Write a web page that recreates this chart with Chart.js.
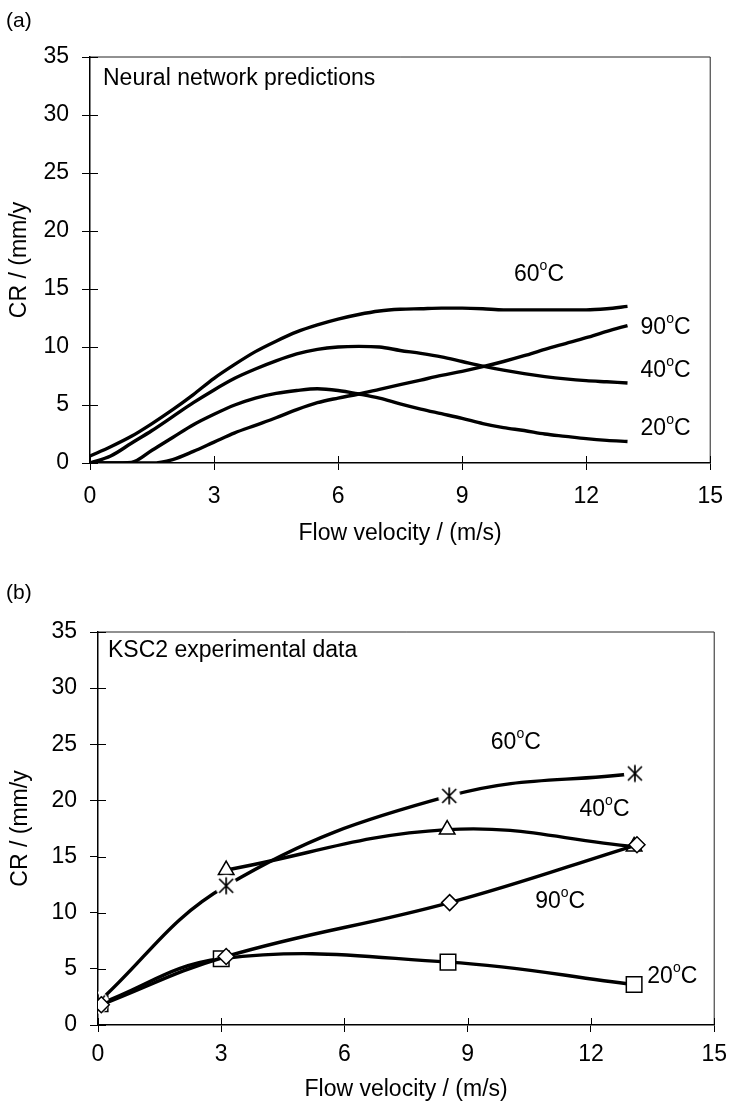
<!DOCTYPE html>
<html>
<head>
<meta charset="utf-8">
<script src="https://cdn.jsdelivr.net/npm/chart.js@4.4.1/dist/chart.umd.min.js"></script>
<style>
  html, body { margin: 0; padding: 0; background: #fff; }
  canvas { display: block; }
</style>
</head>
<body>
<canvas id="chartA" width="736" height="560"></canvas>
<canvas id="chartB" width="736" height="545"></canvas>
<script>
// (a) neural network predictions
const velocityA = [0, 0.5, 1, 1.5, 2, 2.5, 3, 3.5, 4, 4.5, 5, 5.5, 6, 6.5, 7, 7.5, 8, 8.5, 9, 9.5, 10, 10.5, 11, 11.5, 12, 12.5, 13];
const cr60A = [0.6, 1.4, 2.3, 3.4, 4.6, 5.9, 7.3, 8.5, 9.6, 10.5, 11.3, 11.9, 12.4, 12.8, 13.1, 13.25, 13.3, 13.35, 13.35, 13.3, 13.2, 13.2, 13.2, 13.2, 13.2, 13.3, 13.5];
const cr40A = [0, 0.6, 1.7, 2.8, 4.0, 5.2, 6.3, 7.3, 8.1, 8.8, 9.4, 9.8, 10.0, 10.05, 10.0, 9.7, 9.45, 9.15, 8.75, 8.35, 8.0, 7.7, 7.45, 7.25, 7.1, 7.0, 6.9];
const cr20A = [0, 0, 0.05, 1.1, 2.2, 3.3, 4.2, 5.0, 5.6, 6.0, 6.25, 6.4, 6.25, 5.95, 5.6, 5.1, 4.65, 4.25, 3.85, 3.4, 3.05, 2.8, 2.5, 2.3, 2.1, 1.95, 1.85];
const cr90A = [0, 0, 0, 0, 0.3, 1.0, 1.8, 2.6, 3.25, 3.9, 4.6, 5.2, 5.6, 5.95, 6.35, 6.75, 7.15, 7.55, 7.9, 8.3, 8.75, 9.25, 9.8, 10.3, 10.8, 11.35, 11.85];

// (b) KSC2 experimental data
const vel20B = [0.05, 3.0, 8.52, 13.05];
const cr20B = [1.9, 5.9, 5.6, 3.6];
const vel40B = [3.12, 8.5, 13.05];
const cr40B = [13.8, 17.4, 15.9];
const vel60B = [0, 3.12, 8.55, 13.07];
const cr60B = [2.0, 12.4, 20.4, 22.4];
const vel90B = [0.08, 3.12, 8.56, 13.12];
const cr90B = [1.8, 6.1, 10.9, 16.05];

// temperature labels (in axis units)
const tempsA = ['60', '90', '40', '20'];
const tempVelA = [10.86, 13.92, 13.92, 13.92];
const tempCrA = [16.4, 11.8, 8.1, 3.1];
const tempsB = ['60', '40', '90', '20'];
const tempVelB = [10.17, 12.33, 11.25, 13.98];
const tempCrB = [25.25, 19.3, 11.1, 4.44];

const FONT = "'Liberation Sans', Arial, Helvetica, sans-serif";
Chart.defaults.font.family = FONT;
Chart.defaults.font.size = 23;
Chart.defaults.color = '#000';

const pts = (xs, ys) => xs.map((v, i) => ({ x: v, y: ys[i] }));

function drawTemp(ctx, num, cx, cy) {
    ctx.font = '23px ' + FONT;
    const wNum = ctx.measureText(num).width;
    const wC = ctx.measureText('C').width;
    ctx.font = '14px ' + FONT;
    const wO = ctx.measureText('o').width;
    let x = cx - (wNum + wO + wC) / 2;
    const base = cy + 8;
    ctx.textAlign = 'left';
    ctx.textBaseline = 'alphabetic';
    ctx.fillStyle = '#000';
    ctx.font = '23px ' + FONT;
    ctx.fillText(num, x, base);
    x += wNum;
    ctx.font = '14px ' + FONT;
    ctx.fillText('o', x, base - 11);
    x += wO;
    ctx.font = '23px ' + FONT;
    ctx.fillText('C', x, base);
}

// box, inner tick halves, panel letter, caption and temperature labels
const panelPlugin = {
    id: 'panel',
    beforeDatasetsDraw(chart) {
        const { ctx, chartArea: a, scales: { x, y } } = chart;
        ctx.save();
        ctx.strokeStyle = '#222';
        ctx.lineWidth = 1;
        ctx.beginPath();
        ctx.moveTo(a.left, a.top);
        ctx.lineTo(a.right, a.top);
        ctx.lineTo(a.right, a.bottom);
        ctx.stroke();
        ctx.strokeStyle = '#000';
        ctx.beginPath();
        x.ticks.forEach(t => {
            const px = Math.round(x.getPixelForValue(t.value)) + 0.5;
            ctx.moveTo(px, a.bottom);
            ctx.lineTo(px, a.bottom - 7);
        });
        y.ticks.forEach(t => {
            const py = Math.round(y.getPixelForValue(t.value)) + 0.5;
            ctx.moveTo(a.left, py);
            ctx.lineTo(a.left + 8, py);
        });
        ctx.stroke();
        ctx.restore();
    },
    afterDraw(chart, args, o) {
        const { ctx, chartArea: a, scales: { x, y } } = chart;
        ctx.save();
        ctx.fillStyle = '#000';
        ctx.textAlign = 'left';
        ctx.textBaseline = 'middle';
        ctx.font = '21px ' + FONT;
        ctx.fillText(o.letter, 6, o.letterY);
        ctx.font = '23px ' + FONT;
        ctx.fillText(o.caption, a.left + o.capDx, a.top + o.capDy);
        o.temps.forEach((t, i) => {
            drawTemp(ctx, t, x.getPixelForValue(o.tx[i]), y.getPixelForValue(o.ty[i]));
        });
        ctx.restore();
    }
};

function axes(xHeight, yWidth, xTickPad, xTitlePadBottom, yTitlePadTop) {
    return {
        x: {
            type: 'linear', min: 0, max: 15,
            afterFit: s => { s.height = xHeight; },
            ticks: { stepSize: 3, padding: xTickPad, autoSkip: false, maxRotation: 0, font: { size: 23 } },
            grid: { drawOnChartArea: false, tickLength: 7, color: '#000', lineWidth: 1 },
            border: { color: '#000', width: 1.5 },
            title: { display: true, text: 'Flow velocity / (m/s)', font: { size: 23 }, padding: { top: 0, bottom: xTitlePadBottom } }
        },
        y: {
            type: 'linear', min: 0, max: 35,
            afterFit: s => { s.width = yWidth; },
            ticks: { stepSize: 5, padding: 13, font: { size: 23 } },
            grid: { drawOnChartArea: false, tickLength: 8, color: '#000', lineWidth: 1 },
            border: { color: '#000', width: 1.5 },
            title: { display: true, text: 'CR / (mm/y', font: { size: 23 }, padding: { top: yTitlePadTop, bottom: 0 } }
        }
    };
}

const curve = (label, data) => ({
    label, data, borderColor: '#000', borderWidth: 3.4, pointRadius: 0,
    cubicInterpolationMode: 'monotone', fill: false
});

new Chart(document.getElementById('chartA'), {
    type: 'line',
    data: {
        datasets: [
            curve('60°C', pts(velocityA, cr60A)),
            curve('40°C', pts(velocityA, cr40A)),
            curve('20°C', pts(velocityA, cr20A)),
            curve('90°C', pts(velocityA, cr90A))
        ]
    },
    plugins: [panelPlugin],
    options: {
        responsive: false,
        animation: false,
        layout: { padding: { top: 57, right: 14, left: 0, bottom: 0 } },
        scales: axes(97, 90, 13, 13, 6),
        plugins: {
            legend: { display: false },
            tooltip: { enabled: false },
            panel: {
                letter: '(a)', letterY: 21,
                caption: 'Neural network predictions', capDx: 13, capDy: 22,
                temps: tempsA, tx: tempVelA, ty: tempCrA
            }
        }
    }
});

function asteriskMark() {
    const c = document.createElement('canvas');
    c.width = 24; c.height = 24;
    const g = c.getContext('2d');
    g.fillStyle = '#fff';
    g.beginPath();
    g.arc(12, 12, 11, 0, Math.PI * 2);
    g.fill();
    g.strokeStyle = '#000';
    g.lineWidth = 1.7;
    g.beginPath();
    g.moveTo(5, 5); g.lineTo(19, 19);
    g.moveTo(19, 5); g.lineTo(5, 19);
    g.moveTo(12, 3.5); g.lineTo(12, 20.5);
    g.stroke();
    return c;
}

const series = (label, data, style, radius, order) => ({
    label, data, order,
    borderColor: '#000', borderWidth: 3.4, tension: 0.4, fill: false,
    pointStyle: style, pointRadius: radius,
    pointBackgroundColor: '#fff', pointBorderColor: '#000', pointBorderWidth: 1.5
});

new Chart(document.getElementById('chartB'), {
    type: 'line',
    data: {
        datasets: [
            series('20°C', pts(vel20B, cr20B), 'rect', 11, 3),
            series('40°C', pts(vel40B, cr40B), 'triangle', 9, 2),
            series('60°C', pts(vel60B, cr60B), asteriskMark(), 9, 1),
            series('90°C', pts(vel90B, cr90B), 'rectRot', 8, 0)
        ]
    },
    plugins: [panelPlugin],
    options: {
        responsive: false,
        animation: false,
        layout: { padding: { top: 72, right: 14, left: 0, bottom: 0 } },
        scales: axes(80, 98, 9, 2, 7),
        plugins: {
            legend: { display: false },
            tooltip: { enabled: false },
            panel: {
                letter: '(b)', letterY: 33,
                caption: 'KSC2 experimental data', capDx: 10, capDy: 19,
                temps: tempsB, tx: tempVelB, ty: tempCrB
            }
        }
    }
});
</script>
</body>
</html>
